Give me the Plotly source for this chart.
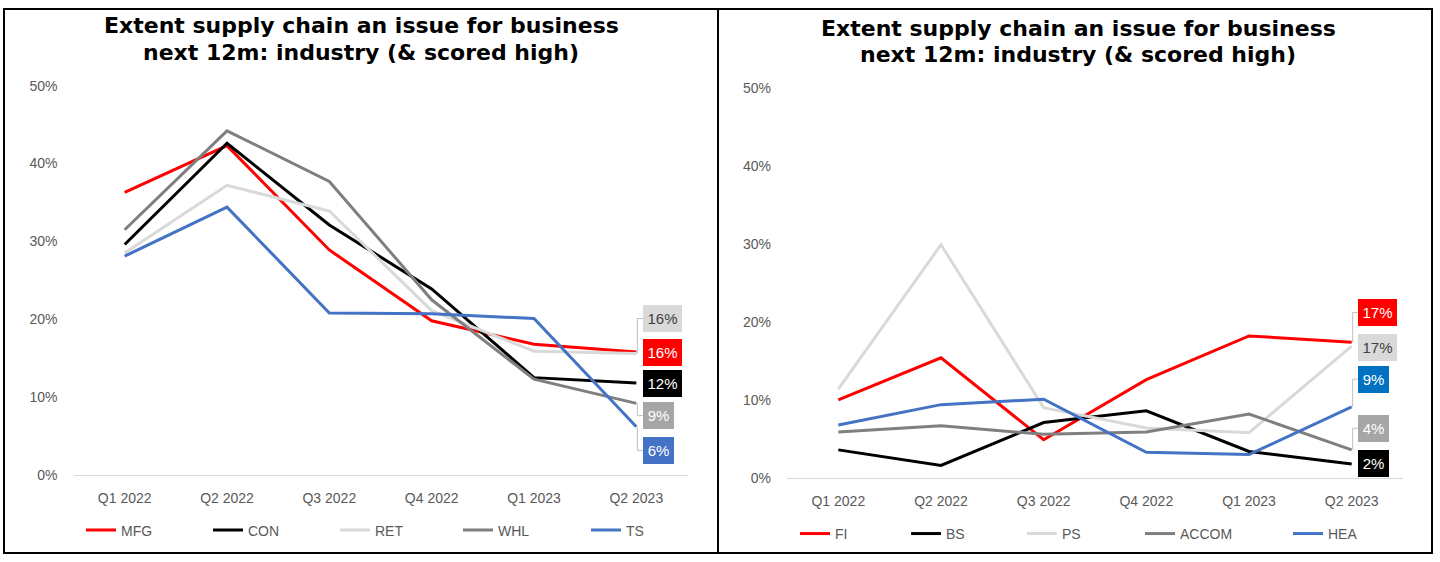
import plotly.graph_objects as go

# ---- data -------------------------------------------------------------
quarters = ["Q1 2022", "Q2 2022", "Q3 2022", "Q4 2022", "Q1 2023", "Q2 2023"]

# left panel (% of businesses)
mfg = [36.3, 42.3, 28.9, 19.8, 16.8, 15.8]
con = [29.6, 42.6, 32.1, 23.9, 12.5, 11.8]
ret = [28.5, 37.2, 33.9, 21.1, 15.9, 15.6]
whl = [31.5, 44.2, 37.7, 22.5, 12.3, 9.2]
ts = [28.1, 34.4, 20.8, 20.7, 20.1, 6.2]

# right panel (% of businesses)
fi = [10.0, 15.4, 4.9, 12.6, 18.2, 17.4]
bs = [3.6, 1.6, 7.1, 8.6, 3.4, 1.8]
ps = [11.4, 29.9, 9.0, 6.4, 5.8, 16.9]
accom = [5.9, 6.7, 5.6, 5.9, 8.2, 3.6]
hea = [6.8, 9.4, 10.1, 3.3, 3.0, 9.1]

y_ticks = [0, 10, 20, 30, 40, 50]
y_tick_text = [f"{v}%" for v in y_ticks]
title_lines = ["Extent supply chain an issue for business",
               "next 12m: industry (&amp; scored high)"]

# ---- styling ----------------------------------------------------------
W, H = 1440, 562
# the captured page is slightly squeezed vertically; layout rows are
# given in on-screen pixels and mapped back through this factor/offset
V_SCALE, V_OFF = 0.972, 7.8

RED, BLACK, LIGHT, GREY, BLUE = "#ff0000", "#000000", "#d9d9d9", "#7f7f7f", "#4472c4"
SANS = "Liberation Sans, Arial, sans-serif"
TICK_FONT = dict(family=SANS, size=14, color="#595959")
TITLE_FONT = dict(family="DejaVu Sans, sans-serif", size=22, color="#000000", weight="bold")


def px(x):
    return x / W


def row(y):
    """on-screen row -> figure pixel row"""
    return (y - V_OFF) / V_SCALE


def py(y):
    return 1 - row(y) / H


def py_raw(y):
    return 1 - y / H


# series: name, values, line colour, label fill, label text colour,
#         label vertical offset (px, up), legend line start x (px)
left_series = [
    ("MFG", mfg, RED, RED, "white", -1, 86),
    ("CON", con, BLACK, BLACK, "white", 0, 213),
    ("RET", ret, LIGHT, LIGHT, "#404040", 34, 340),
    ("WHL", whl, GREY, "#a6a6a6", "white", -12, 463),
    ("TS", ts, BLUE, BLUE, "white", -23, 591),
]
right_series = [
    ("FI", fi, RED, RED, "white", 29, 800),
    ("BS", bs, BLACK, BLACK, "white", 0, 911),
    ("PS", ps, LIGHT, LIGHT, "#404040", -1, 1027),
    ("ACCOM", accom, GREY, "#a6a6a6", "white", 21, 1145),
    ("HEA", hea, BLUE, "#0070c0", "white", 27, 1293),
]

panels = [
    dict(series=left_series, xa="x", ya="y", xdom=(73.5, 687.5), ydom=(475, 85.5),
         legend_y=530.5, label_dx=7, title_x=361, title_y=(25, 52)),
    dict(series=right_series, xa="x2", ya="y2", xdom=(787, 1403), ydom=(478, 87.7),
         legend_y=534, label_dx=6, title_x=1078, title_y=(28, 54)),
]

fig = go.Figure()
annotations = []
shapes = []
legends = {}
xpos = list(range(len(quarters)))
legend_idx = 0

for p in panels:
    for name, vals, lc, fill, tcol, dy, lx in p["series"]:
        legend_idx += 1
        lname = "legend" if legend_idx == 1 else f"legend{legend_idx}"
        fig.add_trace(go.Scatter(
            x=xpos, y=vals, name=name, mode="lines",
            line=dict(color=lc, width=3),
            xaxis=p["xa"], yaxis=p["ya"], legend=lname,
            hoverinfo="skip",
        ))
        legends[lname] = dict(
            x=px(lx - 5), y=py(p["legend_y"]), xanchor="left", yanchor="middle",
            orientation="h", bgcolor="rgba(0,0,0,0)", borderwidth=0,
            font=TICK_FONT, itemclick=False, itemdoubleclick=False,
        )
        # end-of-line value label
        last = vals[-1]
        txt = f"{round(last)}%"
        shift = round(dy / V_SCALE, 1)
        annotations.append(dict(
            x=xpos[-1], y=last, xref=p["xa"], yref=p["ya"],
            text=txt, showarrow=False, xanchor="left", yanchor="middle",
            xshift=p["label_dx"], yshift=shift,
            bgcolor=fill, borderwidth=0, borderpad=2,
            width=8 * len(txt) + 11, height=22.5,
            font=dict(family=SANS, size=15, color=tcol),
        ))
        # elbow leader line from the point to a displaced label
        if abs(dy) > 4:
            shapes.append(dict(
                type="path", xref=p["xa"], yref=p["ya"],
                xsizemode="pixel", ysizemode="pixel",
                xanchor=xpos[-1], yanchor=last,
                path=f"M1,0 L1,{shift} L{p['label_dx']},{shift}",
                line=dict(color="#bfbfbf", width=1),
            ))
    # panel title, two centred lines
    for line, ty in zip(title_lines, p["title_y"]):
        annotations.append(dict(
            x=px(p["title_x"]), y=py(ty), xref="paper", yref="paper",
            text=line, showarrow=False, xanchor="center", yanchor="middle",
            font=TITLE_FONT,
        ))

# outer frame and divider, kept just inside the figure edges
frame = dict(color="#000000", width=2)
shapes.append(dict(type="rect", xref="paper", yref="paper",
                   x0=px(4), x1=px(1432), y0=py_raw(H - 1), y1=py_raw(1), line=frame))
shapes.append(dict(type="line", xref="paper", yref="paper",
                   x0=px(718), x1=px(718), y0=py_raw(H - 1), y1=py_raw(0), line=frame))


def x_axis(dom, anchor):
    return dict(domain=[px(dom[0]), px(dom[1])], anchor=anchor,
                range=[-0.5, len(quarters) - 0.5], tickvals=xpos, ticktext=quarters,
                showgrid=False, zeroline=False, showline=True, linecolor="#d9d9d9",
                linewidth=1, ticks="", tickfont=TICK_FONT, ticklabelstandoff=10,
                fixedrange=True)


def y_axis(dom, anchor):
    return dict(domain=[py(dom[0]), py(dom[1])], anchor=anchor,
                range=[0, 50], tickvals=y_ticks, ticktext=y_tick_text,
                showgrid=False, zeroline=False, showline=False, ticks="",
                tickfont=TICK_FONT, ticklabelstandoff=15, fixedrange=True)


layout = dict(
    width=W, height=H, autosize=False,
    margin=dict(l=0, r=0, t=0, b=0),
    paper_bgcolor="white", plot_bgcolor="white",
    showlegend=True,
    xaxis=x_axis(panels[0]["xdom"], "y"),
    yaxis=y_axis(panels[0]["ydom"], "x"),
    xaxis2=x_axis(panels[1]["xdom"], "y2"),
    yaxis2=y_axis(panels[1]["ydom"], "x2"),
    annotations=annotations,
    shapes=shapes,
)
layout.update(legends)
fig.update_layout(**layout)

fig.write_html("out.html", config={"displayModeBar": False})
